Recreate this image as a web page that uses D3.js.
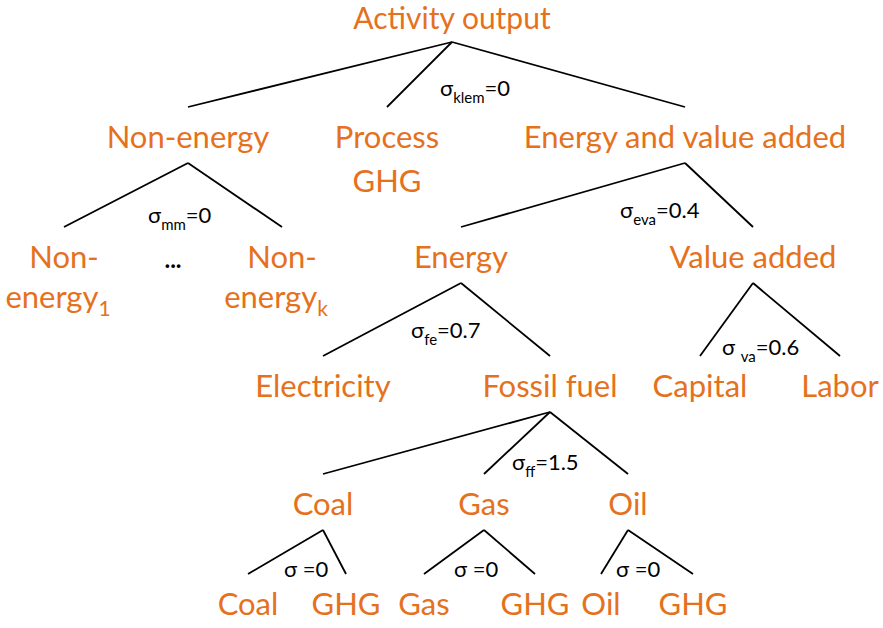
<!DOCTYPE html>
<html>
<head>
<meta charset="utf-8">
<script src="https://cdn.jsdelivr.net/npm/d3@7"></script>
<style>
  body { margin: 0; background: #fff; }
</style>
</head>
<body>
<svg id="nest-tree" width="883" height="628"></svg>
<script>
// nesting structure of the production function
const nodeIds = ["output", "nonEnergy", "processGhg", "eva", "ne1", "nek", "energy", "valueAdded",
  "electricity", "fossil", "capital", "labor", "coal", "gas", "oil",
  "coalIn", "coalGhg", "gasIn", "gasGhg", "oilIn", "oilGhg"];
const nodeParents = ["", "output", "output", "output", "nonEnergy", "nonEnergy", "eva", "eva",
  "energy", "energy", "valueAdded", "valueAdded", "fossil", "fossil", "fossil",
  "coal", "coal", "gas", "gas", "oil", "oil"];
// "|" = new line, "_" = subscript
const nodeLabels = ["Activity output", "Non-energy", "Process|GHG", "Energy and value added",
  "Non-|energy_1", "Non-|energy_k", "Energy", "Value added",
  "Electricity", "Fossil fuel", "Capital", "Labor", "Coal", "Gas", "Oil",
  "Coal", "GHG", "Gas", "GHG", "Oil", "GHG"];

// elasticities of substitution at each nest
const sigmaNests = ["output", "nonEnergy", "eva", "energy", "valueAdded", "fossil", "coal", "gas", "oil"];
const sigmaSubs = ["klem", "mm", "eva", "fe", "va", "ff", "", "", ""];
const sigmaValues = ["0", "0", "0.4", "0.7", "0.6", "1.5", "0", "0", "0"];

// layout
const labelCenterX = {
  output: 452, nonEnergy: 188, processGhg: 387, eva: 685, ne1: 64, nek: 282,
  energy: 461, valueAdded: 753, electricity: 323, fossil: 550, capital: 700, labor: 840,
  coal: 323, gas: 484, oil: 628, coalIn: 248, coalGhg: 346, gasIn: 424, gasGhg: 535,
  oilIn: 601, oilGhg: 693
};
const rowBaseline = d3.scaleOrdinal().domain([0, 1, 2, 3, 4, 5]).range([29, 148, 268, 397, 515, 615]);
const sigmaAnchor = {
  output: [440, 96], nonEnergy: [148, 223], eva: [620, 218], energy: [411, 338],
  valueAdded: [722, 355], fossil: [512, 470], coal: [284, 577], gas: [454, 577], oil: [616, 577]
};

const orange = "#e5711d";
const labelFont = "Lato, 'Open Sans', sans-serif";
const svg = d3.select("#nest-tree");

const root = d3.stratify()
  .id((d) => d.id)
  .parentId((d) => d.parent || null)(
    nodeIds.map((id, i) => ({ id, parent: nodeParents[i], label: nodeLabels[i] }))
  );

root.each((node) => {
  node.x = labelCenterX[node.id];
  node.y = rowBaseline(node.depth);
});

// branches
svg.append("g")
  .selectAll("line")
  .data(root.links())
  .join("line")
  .attr("x1", (d) => d.source.x)
  .attr("y1", (d) => d.source.y + (d.source.depth === 0 ? 13 : 15))
  .attr("x2", (d) => d.target.x)
  .attr("y2", (d) => d.target.y - 41)
  .attr("stroke", "#000")
  .attr("stroke-width", 1.8);

// node labels
const labels = svg.append("g")
  .selectAll("text")
  .data(root.descendants())
  .join("text")
  .attr("text-anchor", "middle")
  .attr("font-family", labelFont)
  .attr("font-size", (d) => (d.depth === 0 ? 30 : 31))
  .attr("fill", orange);

labels.each(function (d) {
  const text = d3.select(this);
  const lines = d.data.label.split("|");
  const lineGap = d.id === "processGhg" ? 44 : 40;
  lines.forEach((line, i) => {
    const [main, sub] = line.split("_");
    text.append("tspan")
      .attr("x", d.x + (sub ? -6 : 0))
      .attr("y", d.y + i * lineGap)
      .text(main);
    if (sub) {
      text.append("tspan")
        .attr("dy", 8)
        .attr("font-size", 21)
        .text(sub);
    }
  });
});

// the ellipsis between the non-energy goods
svg.append("text")
  .attr("x", 173)
  .attr("y", 268)
  .attr("text-anchor", "middle")
  .attr("font-family", labelFont)
  .attr("font-weight", "bold")
  .attr("font-size", 24)
  .text("...");

// sigma labels
const sigmaText = svg.append("g")
  .selectAll("text")
  .data(sigmaNests)
  .join("text")
  .attr("x", (d) => sigmaAnchor[d][0])
  .attr("y", (d) => sigmaAnchor[d][1])
  .attr("font-family", labelFont)
  .attr("font-size", 22)
  .attr("fill", "#000");

sigmaText.each(function (d, i) {
  const text = d3.select(this);
  const sub = sigmaSubs[i];
  const spaced = d === "valueAdded" || !sub;
  text.append("tspan").text(spaced ? "\u03c3 " : "\u03c3");
  if (sub) {
    text.append("tspan").attr("dy", 7).attr("font-size", 15).text(sub);
    text.append("tspan").attr("dy", -7).text("=" + sigmaValues[i]);
  } else {
    text.append("tspan").text("=" + sigmaValues[i]);
  }
});
</script>
</body>
</html>
